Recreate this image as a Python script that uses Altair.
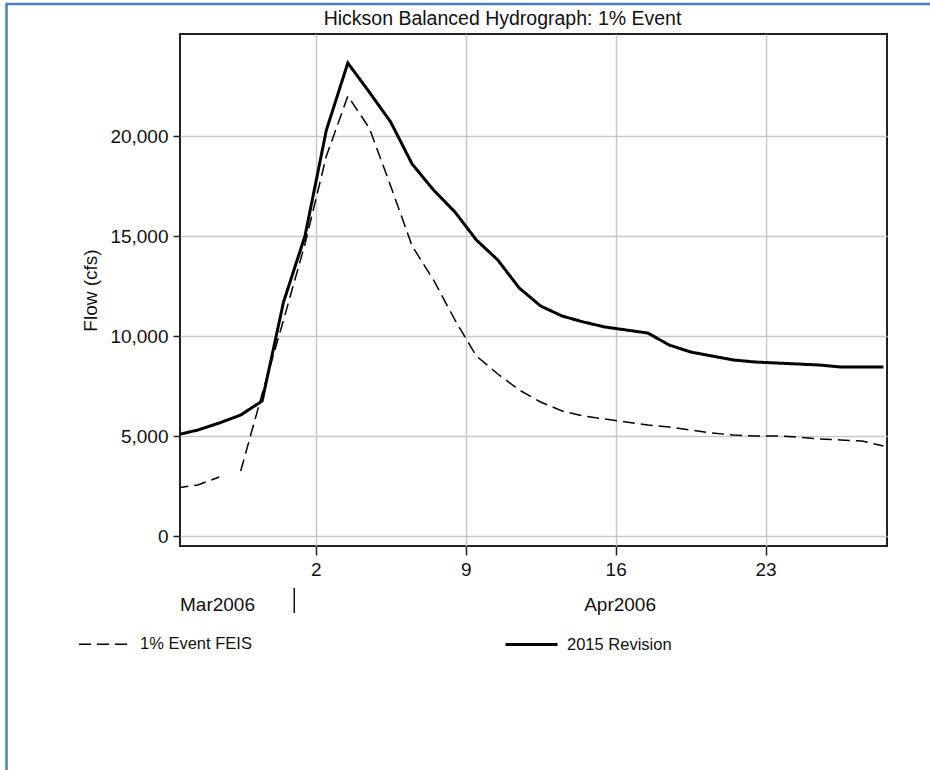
import altair as alt
import pandas as pd

# ---- data ----
start_stamp = "2006-03-26 12:00"
n_days = 34
series_names = ["1% Event FEIS", "2015 Revision"]
feis_1pct = [2400, 2550, 2950, 3250, 7100, 10800, 14600, 19000, 22000, 20400,
             17500, 14500, 12800, 10800, 9000, 8100, 7300, 6700, 6250, 6000,
             5850, 5700, 5550, 5450, 5300, 5150, 5050, 5000, 5000, 4950,
             4850, 4800, 4750, 4500]
feis_segment = ["a", "a", "a"] + ["b"] * 31
revision_2015 = [5050, 5300, 5650, 6050, 6750, 11700, 15000, 20300, 23650, 22200,
                 20700, 18600, 17300, 16200, 14800, 13800, 12400, 11500, 11000, 10700,
                 10450, 10300, 10150, 9550, 9200, 9000, 8800, 8700, 8650, 8600,
                 8550, 8450, 8450, 8450]
revision_segment = ["a"] * 34
y_ticks = [0, 5000, 10000, 15000, 20000]
week_ticks = ["2006-04-02", "2006-04-09", "2006-04-16", "2006-04-23"]
month_labels = ["Mar2006", "Apr2006"]
month_label_at = ["2006-03-26T16:00:00", "2006-04-16T05:00:00"]
month_breaks = ["2006-04-01T00:00:00"]

dates = pd.date_range(start_stamp, periods=n_days, freq="D")
df = pd.concat([
    pd.DataFrame({"date": dates, "flow": feis_1pct, "series": series_names[0], "segment": feis_segment}),
    pd.DataFrame({"date": dates, "flow": revision_2015, "series": series_names[1], "segment": revision_segment}),
])

FONT = "Liberation Sans"
FS = 19

x_scale = alt.Scale(domain=[alt.DateTime(year=2006, month=3, date=26, hours=16),
                            alt.DateTime(year=2006, month=4, date=28, hours=16)])
tick_dt = [alt.DateTime(year=2006, month=4, date=int(t[-2:])) for t in week_ticks]

legend = alt.Legend(orient="none", legendX=-102, legendY=583, direction="horizontal",
                    title=None, symbolType="stroke", symbolSize=2704,
                    labelFontSize=16.5, labelFont=FONT, labelColor="#111",
                    labelOffset=8, columnPadding=247, symbolStrokeColor="black")

lines = alt.Chart(df).mark_line(color="black", clip=True).encode(
    x=alt.X("date:T", scale=x_scale, title=None,
            axis=alt.Axis(values=tick_dt, format="%-d", tickSize=9, labelPadding=5,
                          grid=True, domain=False)),
    y=alt.Y("flow:Q", scale=alt.Scale(domain=[-500, 25100], nice=False, zero=False),
            title="Flow (cfs)",
            axis=alt.Axis(values=y_ticks, format=",.0f", tickSize=7, labelPadding=5,
                          grid=True, domain=False, titlePadding=9)),
    strokeDash=alt.StrokeDash("series:N", scale=alt.Scale(domain=series_names, range=[[12, 6], [1, 0]]),
                              legend=legend),
    strokeWidth=alt.StrokeWidth("series:N", scale=alt.Scale(domain=series_names, range=[1.5, 3]),
                                legend=legend),
    detail="segment:N",
)

mdf = pd.DataFrame({"label": month_labels, "at": pd.to_datetime(month_label_at)})
mar_text = alt.Chart(mdf[mdf.label == month_labels[0]]).mark_text(
    align="left", baseline="middle", fontSize=FS, font=FONT, color="#111").encode(
    x=alt.X("at:T", scale=x_scale, title=None), y=alt.value(571), text="label:N")
apr_text = alt.Chart(mdf[mdf.label == month_labels[1]]).mark_text(
    align="center", baseline="middle", fontSize=FS, font=FONT, color="#111").encode(
    x=alt.X("at:T", scale=x_scale, title=None), y=alt.value(571), text="label:N")
sep = alt.Chart(pd.DataFrame({"at": pd.to_datetime(month_breaks)})).mark_rule(
    color="#111", strokeWidth=1.5).encode(
    x=alt.X("at:T", scale=x_scale, title=None), y=alt.value(554), y2=alt.value(579))

frame = pd.DataFrame({"edge": ["left"]})
border_left = alt.Chart(frame).mark_rule(color="#4a7ebb", strokeWidth=2.5).encode(
    x=alt.value(-173.5), y=alt.value(-30), y2=alt.value(740))
border_top = alt.Chart(frame).mark_rule(color="#4a7ebb", strokeWidth=2.5).encode(
    x=alt.value(-174.5), x2=alt.value(760), y=alt.value(-30))

chart = alt.layer(lines, mar_text, apr_text, sep, border_left, border_top).properties(
    width=707, height=512,
    title=alt.Title("Hickson Balanced Hydrograph: 1% Event", fontSize=19.5, font=FONT,
                    fontWeight="normal", color="#111", anchor="middle", dx=-31, dy=27, offset=0),
    autosize=alt.AutoSizeParams(type="none"),
    padding={"left": 180, "top": 34, "right": 43, "bottom": 224},
    background="white",
).configure_view(stroke="#222", strokeWidth=2).configure_axis(
    labelFont=FONT, labelFontSize=FS, labelColor="#111", titleFont=FONT, titleFontSize=FS,
    titleFontWeight="normal", titleColor="#111", gridColor="#c8c8c8", gridWidth=1.5,
    tickColor="#222", tickWidth=1.5,
)

chart.save("out.html", embed_options={"renderer": "svg", "actions": False})
